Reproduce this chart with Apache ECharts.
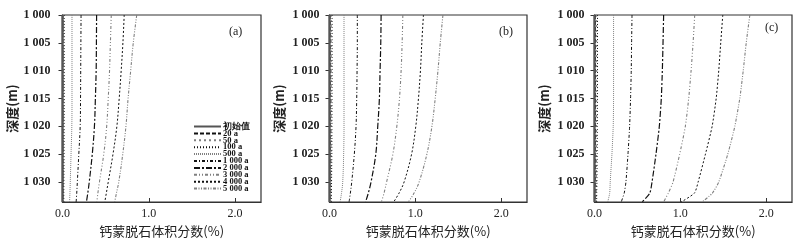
<!DOCTYPE html>
<html><head><meta charset="utf-8">
<script src="https://cdn.jsdelivr.net/npm/echarts@6/dist/echarts.min.js"></script>
<style>html,body{margin:0;padding:0;background:#fff}#c{width:800px;height:244px}</style>
</head><body><div id="c"></div>
<script>
// depths (m)
const depths = [1000, 1005, 1010, 1015, 1020, 1025, 1030, 1032, 1033.6];
const seriesNames = ['初始值', '20 a', '50 a', '100 a', '500 a', '1 000 a', '2 000 a', '3 000 a', '4 000 a', '5 000 a'];
const panelLabels = ['(a)', '(b)', '(c)'];
const xTickLabels = ['0.0', '1.0', '2.0'];

// Panel (a) calcium montmorillonite volume fraction (%)
const a_init = [0, 0, 0, 0, 0, 0, 0, 0, 0];
const a_20 = [0.005, 0.005, 0.005, 0.005, 0.005, 0.005, 0.004, 0.004, 0.004];
const a_50 = [0.012, 0.012, 0.012, 0.012, 0.012, 0.011, 0.010, 0.010, 0.009];
const a_100 = [0.020, 0.020, 0.020, 0.020, 0.019, 0.018, 0.016, 0.015, 0.015];
const a_500 = [0.110, 0.110, 0.110, 0.110, 0.108, 0.099, 0.090, 0.086, 0.082];
const a_1000 = [0.215, 0.213, 0.211, 0.209, 0.205, 0.189, 0.172, 0.165, 0.158];
const a_2000 = [0.395, 0.393, 0.390, 0.381, 0.370, 0.345, 0.310, 0.293, 0.277];
const a_3000 = [0.565, 0.555, 0.545, 0.530, 0.512, 0.478, 0.428, 0.410, 0.397];
const a_4000 = [0.715, 0.700, 0.680, 0.657, 0.630, 0.585, 0.530, 0.508, 0.490];
const a_5000 = [0.860, 0.820, 0.790, 0.760, 0.735, 0.698, 0.652, 0.625, 0.605];

// Panel (b)
const b_init = [0, 0, 0, 0, 0, 0, 0, 0, 0];
const b_20 = [0.008, 0.008, 0.008, 0.008, 0.008, 0.008, 0.007, 0.007, 0.006];
const b_50 = [0.020, 0.020, 0.020, 0.020, 0.019, 0.018, 0.016, 0.015, 0.014];
const b_100 = [0.030, 0.030, 0.030, 0.029, 0.028, 0.027, 0.024, 0.022, 0.020];
const b_500 = [0.169, 0.169, 0.169, 0.169, 0.169, 0.165, 0.154, 0.140, 0.123];
const b_1000 = [0.324, 0.324, 0.321, 0.317, 0.309, 0.289, 0.259, 0.243, 0.228];
const b_2000 = [0.601, 0.597, 0.589, 0.581, 0.562, 0.539, 0.484, 0.452, 0.420];
const b_3000 = [0.854, 0.846, 0.834, 0.815, 0.784, 0.738, 0.665, 0.635, 0.604];
const b_4000 = [1.094, 1.075, 1.059, 1.036, 1.005, 0.956, 0.869, 0.810, 0.747];
const b_5000 = [1.321, 1.290, 1.263, 1.231, 1.193, 1.134, 1.044, 0.985, 0.919];

// Panel (c)
const c_init = [0, 0, 0, 0, 0, 0, 0, 0, 0];
const c_20 = [0.010, 0.010, 0.010, 0.010, 0.010, 0.009, 0.009, 0.008, 0.008];
const c_50 = [0.025, 0.025, 0.025, 0.025, 0.024, 0.023, 0.021, 0.020, 0.019];
const c_100 = [0.035, 0.035, 0.035, 0.034, 0.033, 0.031, 0.028, 0.026, 0.025];
const c_500 = [0.222, 0.222, 0.222, 0.222, 0.218, 0.203, 0.183, 0.177, 0.154];
const c_1000 = [0.437, 0.432, 0.428, 0.420, 0.409, 0.390, 0.366, 0.346, 0.311];
const c_2000 = [0.805, 0.798, 0.790, 0.778, 0.755, 0.716, 0.670, 0.644, 0.556];
const c_3000 = [1.167, 1.148, 1.125, 1.097, 1.058, 0.992, 0.915, 0.860, 0.805];
const c_4000 = [1.494, 1.470, 1.447, 1.417, 1.370, 1.292, 1.207, 1.164, 1.009];
const c_5000 = [1.809, 1.767, 1.732, 1.692, 1.634, 1.552, 1.447, 1.373, 1.254];

const panels = [
  [a_init, a_20, a_50, a_100, a_500, a_1000, a_2000, a_3000, a_4000, a_5000],
  [b_init, b_20, b_50, b_100, b_500, b_1000, b_2000, b_3000, b_4000, b_5000],
  [c_init, c_20, c_50, c_100, c_500, c_1000, c_2000, c_3000, c_4000, c_5000]
];

const BLK = '#111', GRY = '#808080';
const styles = [
  {color: '#555', width: 2.2, type: 'solid'},
  {color: BLK, width: 1, type: [4, 2]},
  {color: GRY, width: 1.1, type: [2, 3]},
  {color: BLK, width: 1, type: [1, 2]},
  {color: GRY, width: 1, type: [1, 1]},
  {color: BLK, width: 1, type: [3, 2, 1, 2]},
  {color: BLK, width: 1.2, type: [6, 2, 2, 2]},
  {color: GRY, width: 1.1, type: [3, 2, 1, 2, 1, 2]},
  {color: BLK, width: 1, type: [2, 2]},
  {color: GRY, width: 1.1, type: [3, 1.5, 1, 1.5, 1, 1.5]}
];

const gridDefs = [
  {left: 62.5, top: 15, width: 198.5, height: 187, margin: 12},
  {left: 329.5, top: 15, width: 197.5, height: 187, margin: 10},
  {left: 594.5, top: 15, width: 197.5, height: 187, margin: 10}
];
const labelPos = [[237, 33], [507, 33], [773, 29]];

const serif = '"Liberation Serif", serif';
const cjk = '"Noto Sans CJK SC", sans-serif';

const grid = [], xAxis = [], yAxis = [], series = [], graphic = [];
gridDefs.forEach((g, i) => {
  grid.push({left: g.left, top: g.top, width: g.width, height: g.height, show: true, borderColor: '#333', borderWidth: 1.2, backgroundColor: 'transparent'});
  xAxis.push({
    type: 'value', gridIndex: i, min: 0, max: 2.3, interval: 1,
    axisLine: {show: true, lineStyle: {color: '#333', width: 1.2}},
    axisTick: {show: true, inside: true, length: 4, lineStyle: {color: '#333'}},
    axisLabel: {margin: 6, fontFamily: serif, fontSize: 12, color: '#222', showMaxLabel: false,
      formatter: v => (Math.abs(v - Math.round(v)) < 1e-9 ? xTickLabels[Math.round(v)] || '' : '')},
    splitLine: {show: false},
    name: '钙蒙脱石体积分数(%)', nameLocation: 'middle', nameGap: 17,
    nameTextStyle: {fontFamily: cjk, fontSize: 13, color: '#222'}
  });
  yAxis.push({
    type: 'value', gridIndex: i, min: 1000, max: 1033.6, interval: 5, inverse: true,
    axisLine: {show: true, lineStyle: {color: '#333', width: 1.2}},
    axisTick: {show: true, inside: false, length: 4, lineStyle: {color: '#333'}},
    axisLabel: {margin: g.margin, fontFamily: serif, fontWeight: 'bold', fontSize: 12, color: '#222', showMaxLabel: false,
      formatter: v => (v % 5 === 0 ? String(v).replace(/(\d)(\d{3})$/, '$1 $2') : '')},
    splitLine: {show: false},
    name: '深度(m)', nameLocation: 'middle', nameGap: 44, nameRotate: 90,
    nameTextStyle: {fontFamily: cjk, fontSize: 13, fontWeight: 'bold', color: '#222'}
  });
  panels[i].forEach((vals, k) => {
    series.push({
      type: 'line', name: seriesNames[k], xAxisIndex: i, yAxisIndex: i,
      data: vals.map((v, j) => [v, depths[j]]),
      symbol: 'none', smooth: i === 2 ? 0.2 : 0.35, silent: true,
      itemStyle: {color: styles[k].color},
      lineStyle: styles[k], z: k === 0 ? 3 : 2
    });
  });
  graphic.push({type: 'text', left: labelPos[i][0] - 8, top: labelPos[i][1] - 7,
    style: {text: panelLabels[i], font: '12px ' + serif, fill: '#222'}});
});

const chart = echarts.init(document.getElementById('c'), null, {renderer: 'canvas'});
chart.setOption({
  animation: false,
  backgroundColor: '#fff',
  grid, xAxis, yAxis, series, graphic,
  legend: {
    data: seriesNames, orient: 'vertical', left: 193, top: 122,
    itemWidth: 27, itemHeight: 5, itemGap: -2.1, padding: 0, selectedMode: false,
    itemStyle: {opacity: 0},
    textStyle: {fontFamily: serif, fontWeight: 'bold', fontSize: 8.5, lineHeight: 6.85, color: '#111', padding: [0, 0, 0, -3]}
  }
});
</script></body></html>
